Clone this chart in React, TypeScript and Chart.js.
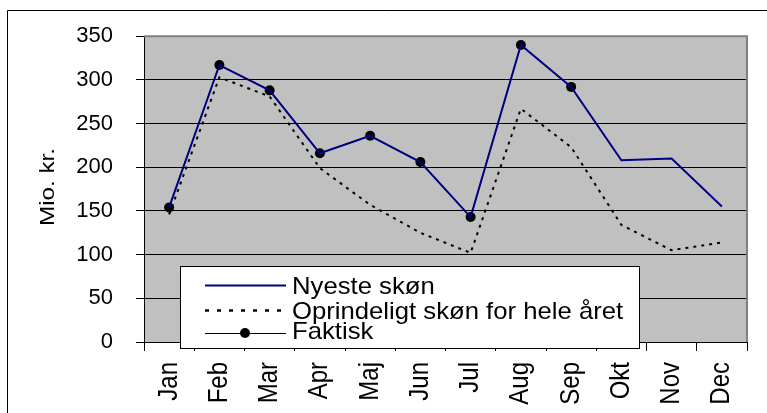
import React, { useEffect, useRef } from "react";
import { Chart, registerables } from "chart.js";

Chart.register(...registerables);

const months = ["Jan", "Feb", "Mar", "Apr", "Maj", "Jun", "Jul", "Aug", "Sep", "Okt", "Nov", "Dec"];
const nyesteSkon = [154, 317, 288, 216, 236, 206, 143, 340, 292, 208, 210, 155];
const oprindeligtSkon = [146, 303, 281, 199, 157, 125, 102, 267, 223, 134, 105, 114];
const faktisk = [154, 317, 288, 216, 236, 206, 143, 340, 292, null, null, null];
const yTicks = [0, 50, 100, 150, 200, 250, 300, 350];
const seriesNames = ["Nyeste skøn", "Oprindeligt skøn for hele året", "Faktisk"];
const yTitle = "Mio. kr.";

const FONT = "'Liberation Sans', Arial, Helvetica, sans-serif";

const decorPlugin = {
  id: "decor",
  beforeDraw(chart: any) {
    const { ctx, chartArea: a } = chart;
    ctx.save();
    ctx.fillStyle = "#c0c0c0";
    ctx.fillRect(a.left, a.top, a.right - a.left, a.bottom - a.top);
    ctx.restore();
  },
  beforeDatasetsDraw(chart: any) {
    const { ctx, chartArea: a } = chart;
    ctx.save();
    ctx.strokeStyle = "#808080";
    ctx.lineWidth = 2;
    ctx.beginPath();
    ctx.moveTo(a.left, a.top);
    ctx.lineTo(a.right, a.top);
    ctx.lineTo(a.right, a.bottom);
    ctx.stroke();
    ctx.restore();
  },
  afterDraw(chart: any) {
    const { ctx } = chart;
    ctx.save();
    // outer frame
    ctx.strokeStyle = "#000";
    ctx.lineWidth = 1;
    ctx.beginPath();
    ctx.moveTo(767, 10.5);
    ctx.lineTo(7.5, 10.5);
    ctx.lineTo(7.5, 413);
    ctx.stroke();

    // x category labels (rotated, reading upward)
    const xs = chart.scales.x;
    ctx.fillStyle = "#000";
    ctx.font = `24px ${FONT}`;
    ctx.textAlign = "right";
    ctx.textBaseline = "middle";
    xs.getLabels().forEach((lab: string, i: number) => {
      const px = xs.getPixelForValue(i);
      ctx.save();
      ctx.translate(px, 362);
      ctx.rotate(-Math.PI / 2);
      ctx.scale(1, 1.12);
      ctx.fillText(lab, 0, 0);
      ctx.restore();
    });

    // y title
    ctx.save();
    ctx.translate(48, 187);
    ctx.rotate(-Math.PI / 2);
    ctx.font = `21px ${FONT}`;
    const w = ctx.measureText(yTitle).width;
    ctx.scale(78 / w, 1);
    ctx.fillStyle = "#000";
    ctx.textAlign = "center";
    ctx.textBaseline = "middle";
    ctx.fillText(yTitle, 0, 0);
    ctx.restore();

    // legend
    const lx = 180, ly = 266, lw = 459, lh = 82;
    ctx.fillStyle = "#fff";
    ctx.fillRect(lx, ly, lw, lh);
    ctx.strokeStyle = "#000";
    ctx.lineWidth = 1;
    ctx.strokeRect(lx + 0.5, ly + 0.5, lw, lh);

    const rows = [285.5, 310.5, 333];
    const x0 = 205, x1 = 286;
    ctx.strokeStyle = "#000080";
    ctx.lineWidth = 2;
    ctx.beginPath();
    ctx.moveTo(x0, rows[0]);
    ctx.lineTo(x1, rows[0]);
    ctx.stroke();
    ctx.strokeStyle = "#000";
    ctx.lineWidth = 2.5;
    ctx.setLineDash([4, 8]);
    ctx.beginPath();
    ctx.moveTo(x0, rows[1]);
    ctx.lineTo(x1, rows[1]);
    ctx.stroke();
    ctx.setLineDash([]);
    ctx.lineWidth = 1;
    ctx.beginPath();
    ctx.moveTo(x0, rows[2] + 0.5);
    ctx.lineTo(x1, rows[2] + 0.5);
    ctx.stroke();
    ctx.fillStyle = "#000";
    ctx.beginPath();
    ctx.arc(245, rows[2], 5, 0, Math.PI * 2);
    ctx.fill();

    ctx.font = `24px ${FONT}`;
    ctx.textAlign = "left";
    ctx.textBaseline = "alphabetic";
    seriesNames.forEach((name, i) => {
      ctx.save();
      ctx.translate(292, rows[i] + (i === 2 ? 6 : 8.5));
      ctx.scale(1.07, 1);
      ctx.fillText(name, 0, 0);
      ctx.restore();
    });
    ctx.restore();
  },
};

export default function App() {
  const ref = useRef<HTMLCanvasElement>(null);
  useEffect(() => {
    if (!ref.current) return;
    const chart = new Chart(ref.current, {
      type: "line",
      data: {
        labels: months,
        datasets: [
          {
            label: seriesNames[0],
            data: nyesteSkon,
            borderColor: "#000080",
            backgroundColor: "#000080",
            borderWidth: 2,
            pointRadius: 0,
            tension: 0,
          },
          {
            label: seriesNames[1],
            data: oprindeligtSkon,
            borderColor: "#000",
            backgroundColor: "#000",
            borderWidth: 2,
            borderDash: [3, 5],
            pointRadius: 0,
            tension: 0,
          },
          {
            label: seriesNames[2],
            data: faktisk,
            borderColor: "#000",
            backgroundColor: "#000",
            borderWidth: 1,
            pointRadius: 5,
            pointBackgroundColor: "#000",
            pointBorderWidth: 0,
            spanGaps: false,
            tension: 0,
          },
        ],
      },
      options: {
        animation: false,
        responsive: false,
        layout: { padding: { left: 0, top: 32, right: 20, bottom: 0 } },
        plugins: { legend: { display: false }, tooltip: { enabled: false } },
        scales: {
          x: {
            offset: true,
            grid: {
              offset: true,
              drawOnChartArea: false,
              drawTicks: true,
              tickLength: 9,
              color: "#000",
              tickColor: "#000",
            },
            border: { display: true, color: "#000", width: 1 },
            ticks: {
              autoSkip: false,
              maxRotation: 0,
              color: "rgba(0,0,0,0)",
              font: { family: FONT, size: 12 },
            },
            afterFit: (s: any) => {
              s.height = 71;
            },
          },
          y: {
            min: 0,
            max: 350,
            afterBuildTicks: (s: any) => {
              s.ticks = yTicks.map((v) => ({ value: v }));
            },
            grid: {
              color: (c: any) => (c.tick && (c.tick.value === 0 || c.tick.value === 350) ? "rgba(0,0,0,0)" : "#000"),
              tickColor: "#000",
              tickLength: 8,
              lineWidth: 1,
            },
            border: { display: true, color: "#000", width: 1 },
            ticks: {
              padding: 23,
              color: "#000",
              font: { family: FONT, size: 22 },
            },
            afterFit: (s: any) => {
              s.width = 144;
            },
          },
        },
      },
      plugins: [decorPlugin],
    });
    return () => chart.destroy();
  }, []);
  return (
    <div style={{ position: "fixed", left: 0, top: 0, width: 767, height: 413, background: "#fff" }}>
      <canvas ref={ref} width={767} height={413} style={{ display: "block" }} />
    </div>
  );
}
